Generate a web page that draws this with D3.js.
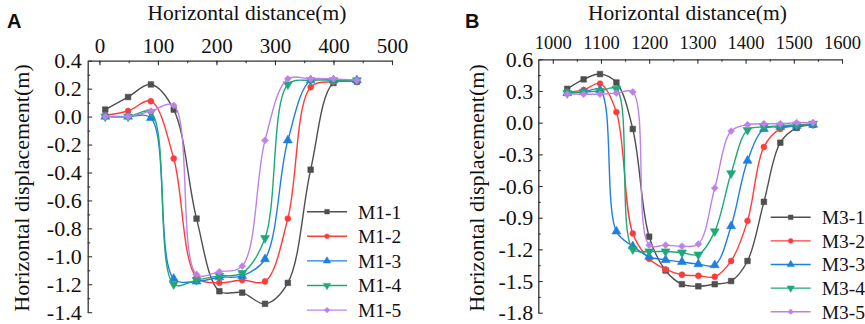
<!DOCTYPE html>
<html>
<head>
<meta charset="utf-8">
<script src="https://cdn.jsdelivr.net/npm/d3@7"></script>
<style>
  html, body { margin: 0; padding: 0; background: #fff; }
  svg { display: block; }
  .serif { font-family: "Liberation Serif", "DejaVu Serif", "Times New Roman", serif; fill: #111; }
</style>
</head>
<body>
<svg id="chart" width="865" height="324"></svg>
<script>
// ---------- Data ----------
const xA = [10, 49, 88, 127, 166, 205, 244, 283, 322, 361, 400, 440];
const namesA = ["M1-1", "M1-2", "M1-3", "M1-4", "M1-5"];
const m1_1 = [0.05, 0.14, 0.23, 0.05, -0.73, -1.25, -1.26, -1.34, -1.19, -0.38, 0.24, 0.25];
const m1_2 = [0.01, 0.04, 0.11, -0.30, -1.15, -1.19, -1.17, -1.18, -0.73, 0.21, 0.25, 0.25];
const m1_3 = [0.0, 0.0, -0.01, -1.16, -1.18, -1.15, -1.14, -1.02, -0.17, 0.26, 0.26, 0.26];
const m1_4 = [0.0, 0.0, 0.03, -1.20, -1.17, -1.14, -1.12, -0.87, 0.23, 0.26, 0.26, 0.26];
const m1_5 = [0.0, 0.0, 0.04, 0.08, -1.13, -1.11, -1.07, -0.17, 0.27, 0.27, 0.27, 0.26];

const xB = [1030, 1064, 1098, 1132, 1166, 1200, 1234, 1268, 1302, 1336, 1370, 1404, 1438, 1472, 1506, 1540];
const namesB = ["M3-1", "M3-2", "M3-3", "M3-4", "M3-5"];
const m3_1 = [0.32, 0.41, 0.46, 0.38, -0.06, -1.08, -1.40, -1.53, -1.55, -1.53, -1.50, -1.31, -0.75, -0.19, -0.05, -0.02];
const m3_2 = [0.29, 0.31, 0.37, 0.10, -1.05, -1.29, -1.39, -1.44, -1.45, -1.46, -1.31, -0.93, -0.23, -0.06, -0.03, -0.02];
const m3_3 = [0.28, 0.29, 0.31, -1.03, -1.17, -1.27, -1.30, -1.32, -1.34, -1.35, -0.98, -0.36, -0.06, -0.04, -0.03, -0.02];
const m3_4 = [0.28, 0.29, 0.30, 0.32, -1.20, -1.22, -1.22, -1.23, -1.25, -1.03, -0.48, -0.07, -0.04, -0.03, -0.02, -0.01];
const m3_5 = [0.27, 0.27, 0.27, 0.28, 0.29, -1.16, -1.16, -1.17, -1.15, -0.62, -0.08, -0.02, -0.01, -0.01, 0.0, 0.0];

const xTicksA = [0, 100, 200, 300, 400, 500];
const xMinorA = [0, 50, 100, 150, 200, 250, 300, 350, 400, 450, 500];
const yTicksA = [0.4, 0.2, 0.0, -0.2, -0.4, -0.6, -0.8, -1.0, -1.2, -1.4];
const yMinorA = [0.3, 0.1, -0.1, -0.3, -0.5, -0.7, -0.9, -1.1, -1.3];
const xTicksB = [1000, 1100, 1200, 1300, 1400, 1500, 1600];
const xMinorB = [1050, 1150, 1250, 1350, 1450, 1550];
const yTicksB = [0.6, 0.3, 0.0, -0.3, -0.6, -0.9, -1.2, -1.5, -1.8];
const yMinorB = [0.45, 0.15, -0.15, -0.45, -0.75, -1.05, -1.35, -1.65];

const colors = ["#4f4f4f", "#ff3c3c", "#1f7fe0", "#1fa878", "#bf80ea"];
const markers = ["square", "circle", "up", "down", "diamond"];

// ---------- Drawing ----------
const SERIF = '"Liberation Serif", "DejaVu Serif", "Times New Roman", serif';
const svg = d3.select("#chart");
const fmt = v => v.toFixed(1);

function markerPath(type, s) {
  switch (type) {
    case "square": return d3.symbol(d3.symbolSquare, s * s)();
    case "circle": return d3.symbol(d3.symbolCircle, Math.PI * (s / 2) * (s / 2) * 1.1)();
    case "up": return d3.symbol(d3.symbolTriangle, s * s * 1.1)();
    case "down": return d3.symbol(d3.symbolTriangle, s * s * 1.1)();
    case "diamond": return d3.symbol(d3.symbolSquare, s * s * 0.75)();
  }
}
function markerRot(type) {
  return type === "down" ? " rotate(180)" : type === "diamond" ? " rotate(45)" : "";
}
function serif(sel, size) {
  sel.attr("class", "serif").style("font-family", SERIF).style("font-size", size + "px").style("fill", "#111");
}

function panel(cfg) {
  const g = svg.append("g");
  const x = d3.scaleLinear().domain(cfg.xDomain).range(cfg.xRange);
  const y = d3.scaleLinear().domain(cfg.yDomain).range(cfg.yRange);

  // top axis
  const topMinor = d3.axisTop(x).tickValues(cfg.xMinor).tickSize(-2.5).tickFormat("").tickSizeOuter(0);
  g.append("g").attr("transform", `translate(0,${cfg.yRange[0]})`).call(topMinor)
    .call(a => a.select(".domain").remove());
  const topAxis = d3.axisTop(x).tickValues(cfg.xTicks).tickSize(-4.5).tickPadding(cfg.xPad)
    .tickFormat(d => d).tickSizeOuter(0);
  g.append("g").attr("transform", `translate(0,${cfg.yRange[0]})`).call(topAxis)
    .call(a => serif(a.selectAll("text"), cfg.xFont));

  // left axis
  const leftMinor = d3.axisLeft(y).tickValues(cfg.yMinor).tickSize(-2.5).tickFormat("").tickSizeOuter(0);
  g.append("g").attr("transform", `translate(${cfg.xRange[0]},0)`).call(leftMinor)
    .call(a => a.select(".domain").remove());
  const leftAxis = d3.axisLeft(y).tickValues(cfg.yTicks).tickSize(-4.5).tickPadding(cfg.yPad)
    .tickFormat(fmt).tickSizeOuter(0);
  g.append("g").attr("transform", `translate(${cfg.xRange[0]},0)`).call(leftAxis)
    .call(a => serif(a.selectAll("text"), 22));

  g.selectAll(".domain").attr("stroke", "#333").attr("stroke-width", 1.3);
  g.selectAll(".tick line").attr("stroke", "#333").attr("stroke-width", 1.1);

  // titles
  g.append("text").attr("x", cfg.titleX).attr("y", 19.5).attr("text-anchor", "middle")
    .call(s => serif(s, 21.5)).text("Horizontal distance(m)");
  g.append("text").attr("transform", `translate(${cfg.yTitleX},188) rotate(-90)`)
    .attr("text-anchor", "middle").attr("dy", "0.35em")
    .call(s => serif(s, 22)).text("Horizontal displacement(m)");
  g.append("text").attr("x", cfg.letterX).attr("y", 28)
    .style("font-family", '"Liberation Sans", Arial, sans-serif').style("font-weight", "bold")
    .style("font-size", "20px").style("fill", "#111")
    .text(cfg.letter);

  // series
  const line = d3.line().x((d, i) => x(cfg.xs[i])).y(d => y(d)).curve(d3.curveCatmullRom.alpha(0.5));
  cfg.series.forEach((vals, si) => {
    const sg = g.append("g");
    sg.append("path").datum(vals).attr("d", line).attr("fill", "none")
      .attr("stroke", colors[si]).attr("stroke-width", 1.4);
    sg.selectAll("path.m").data(vals).join("path").attr("class", "m")
      .attr("d", markerPath(markers[si], 5.6))
      .attr("transform", (d, i) => `translate(${x(cfg.xs[i])},${y(d)})` + markerRot(markers[si]))
      .attr("fill", colors[si]).attr("stroke", colors[si]).attr("stroke-width", 0.6);
  });

  // legend
  const lg = g.append("g");
  cfg.names.forEach((n, i) => {
    const yy = cfg.legY0 + i * cfg.legStep;
    lg.append("line").attr("x1", cfg.legX).attr("x2", cfg.legX + 40).attr("y1", yy).attr("y2", yy)
      .attr("stroke", colors[i]).attr("stroke-width", 1.4);
    lg.append("path").attr("d", markerPath(markers[i], 4.6))
      .attr("transform", `translate(${cfg.legX + 20},${yy})` + markerRot(markers[i]))
      .attr("fill", colors[i]).attr("stroke", colors[i]).attr("stroke-width", 0.5);
    lg.append("text").attr("x", cfg.legX + 51).attr("y", yy).attr("dy", "0.35em")
      .call(s => serif(s, 19.5)).text(n);
  });
}

panel({
  xDomain: [-20, 500], xRange: [87.7, 392],
  yDomain: [0.4, -1.4], yRange: [60.7, 312.2],
  xTicks: xTicksA, xMinor: xMinorA, yTicks: yTicksA, yMinor: yMinorA,
  xPad: 8, yPad: 6, xFont: 21,
  xs: xA, series: [m1_1, m1_2, m1_3, m1_4, m1_5], names: namesA,
  titleX: 247, yTitleX: 21, letter: "A", letterX: 7,
  legX: 307, legY0: 211.7, legStep: 24.6
});

panel({
  xDomain: [970, 1600], xRange: [538.3, 842],
  yDomain: [0.6, -1.8], yRange: [59.3, 312.7],
  xTicks: xTicksB, xMinor: xMinorB, yTicks: yTicksB, yMinor: yMinorB,
  xPad: 10, yPad: 5, xFont: 18.5,
  xs: xB, series: [m3_1, m3_2, m3_3, m3_4, m3_5], names: namesB,
  titleX: 687.5, yTitleX: 476, letter: "B", letterX: 465,
  legX: 770.7, legY0: 217.3, legStep: 23.6
});
</script>
</body>
</html>
